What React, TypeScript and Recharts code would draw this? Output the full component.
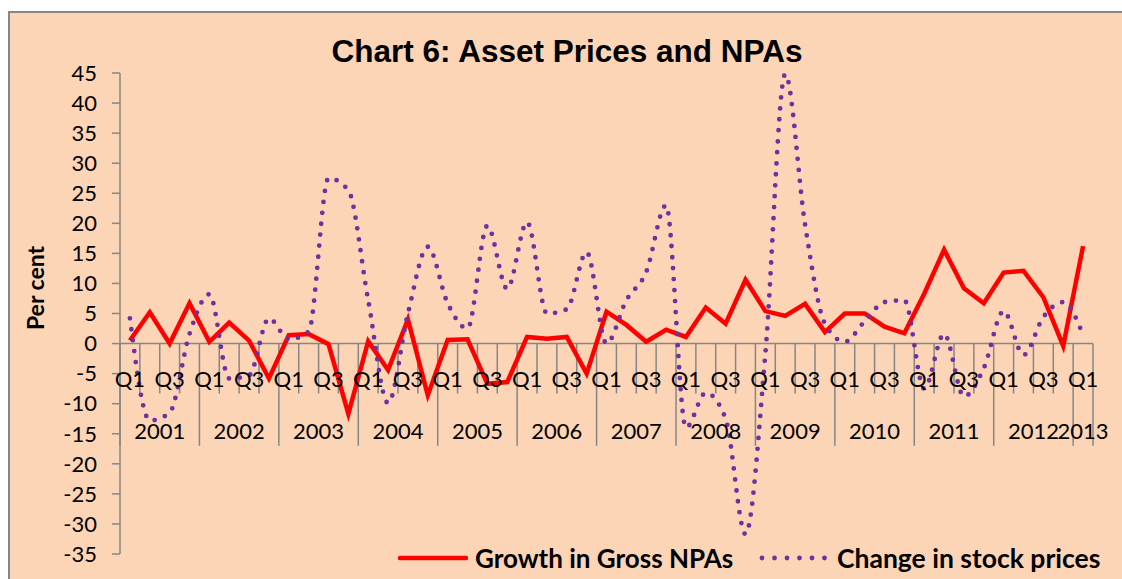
import { LineChart, Line, XAxis, YAxis, ReferenceLine, ReferenceDot } from 'recharts';

const years = ['2001', '2002', '2003', '2004', '2005', '2006', '2007', '2008', '2009', '2010', '2011', '2012', '2013'];
const quarterNames = ['Q1', 'Q2', 'Q3', 'Q4'];

// Growth in Gross NPAs, 2001 Q1 .. 2013 Q1
const npaGrowth = [
  0.5, 5.2, 0, 6.7,
  0.3, 3.5, 0.5, -5.8,
  1.4, 1.6, -0.1, -11.7,
  0.4, -4.4, 4.0, -8.6,
  0.6, 0.7, -6.7, -6.4,
  1.1, 0.8, 1.1, -5.0,
  5.3, 3.1, 0.3, 2.3,
  1.1, 6.0, 3.3, 10.6,
  5.4, 4.6, 6.6, 1.9,
  5.0, 5.0, 2.8, 1.7,
  8.3, 15.6, 9.2, 6.7,
  11.8, 12.1, 7.7, -0.4,
  16.2,
];

// Change in stock prices
const stockChange = [
  4.2, -12.8, -11.5, 1.6,
  8.2, -5.8, -5.3, 4.2,
  0.7, 2.0, 27.5, 25.5,
  7.2, -9.9, 5.0, 16.1,
  6.7, 2.5, 19.6, 9.1,
  20.2, 5.0, 5.7, 15.2,
  0.0, 7.2, 11.9, 23.0,
  -14.0, -8.2, -12.5, -31.7,
  -1.7, 44.8, 19.8, 3.3,
  0.3, 3.7, 6.9, 7.2,
  -7.5, 1.6, -8.8, -4.1,
  5.4, -1.9, 4.4, 6.9,
  1.4,
];

const yTicks = [-35, -30, -25, -20, -15, -10, -5, 0, 5, 10, 15, 20, 25, 30, 35, 40, 45];

const data = npaGrowth.map((npa, i) => ({
  i,
  npa,
  stock: stockChange[i],
  quarter: quarterNames[i % 4],
  year: years[Math.floor(i / 4)],
}));

const yearCenters = years.map((y) => {
  const idx = data.filter((d) => d.year === y).map((d) => d.i);
  return { year: y, x: (idx[0] + idx[idx.length - 1]) / 2 };
});

const boundaries = Array.from({ length: data.length + 1 }, (_, b) => b);

const GRAY = '#868686';
const RED = '#FF0000';
const PURPLE = '#7030A0';
const FONT = 'Lato, "Open Sans", sans-serif';

export default function App() {
  return (
    <div style={{ position: 'fixed', left: 8, top: 8, right: 0, bottom: 0, overflow: 'hidden' }}>
      <style>{'html,body{overflow:hidden}'}</style>
      <div
        style={{
          position: 'absolute',
          left: 0,
          top: 3,
          right: -20,
          bottom: -20,
          background: '#FBD5B5',
          borderTop: `2px solid ${GRAY}`,
          borderLeft: `2px solid ${GRAY}`,
        }}
      />
      <div
        style={{
          position: 'absolute',
          left: 0,
          top: 27,
          width: 1118,
          textAlign: 'center',
          fontFamily: '"Liberation Sans", Arial, sans-serif',
          fontWeight: 'bold',
          fontSize: 31.5,
          lineHeight: '32px',
          color: '#000',
        }}
      >
        Chart 6: Asset Prices and NPAs
      </div>
      <div style={{ position: 'absolute', left: 27, top: 280, width: 0, height: 0 }}>
        <div
          style={{
            position: 'absolute',
            transform: 'translate(-50%, -50%) rotate(-90deg)',
            whiteSpace: 'nowrap',
            fontFamily: FONT,
            fontWeight: 'bold',
            fontSize: 23,
            lineHeight: '26px',
          }}
        >
          Per cent
        </div>
      </div>

      <LineChart
        width={1114}
        height={571}
        data={data}
        margin={{ top: 65, right: 29, bottom: 25, left: 0 }}
        style={{ position: 'absolute', left: 0, top: 0 }}
      >
        <XAxis type="number" dataKey="i" domain={[-0.5, data.length - 0.5]} hide />
        <YAxis
          domain={[-35, 45]}
          ticks={yTicks}
          interval={0}
          width={112}
          tickSize={8}
          tickMargin={15}
          axisLine={{ stroke: GRAY, strokeWidth: 1.5 }}
          tickLine={{ stroke: GRAY, strokeWidth: 1.5 }}
          tick={{ fill: '#000', fontSize: 22, fontFamily: FONT }}
        />
        <ReferenceLine y={0} stroke={GRAY} strokeWidth={1.5} />
        {boundaries.map((b) => {
          const long = b % 4 === 0 || b === data.length;
          return (
            <ReferenceLine
              key={`b${b}`}
              segment={[
                { x: b - 0.5, y: 0 },
                { x: b - 0.5, y: long ? -17 : -8.3 },
              ]}
              stroke={GRAY}
              strokeWidth={1.5}
            />
          );
        })}
        {data
          .filter((d) => d.i % 2 === 0)
          .map((d) => (
            <ReferenceDot
              key={`q${d.i}`}
              x={d.i}
              y={-5.9}
              r={0}
              stroke="none"
              fill="none"
              label={{ value: d.quarter, position: 'center', fill: '#000', fontSize: 22, fontFamily: FONT }}
            />
          ))}
        {yearCenters.map((c) => (
          <ReferenceDot
            key={`y${c.year}`}
            x={c.x}
            y={-14.5}
            r={0}
            stroke="none"
            fill="none"
            label={{ value: c.year, position: 'center', fill: '#000', fontSize: 22, fontFamily: FONT }}
          />
        ))}
        <Line
          type="linear"
          dataKey="npa"
          name="Growth in Gross NPAs"
          stroke={RED}
          strokeWidth={4.5}
          dot={false}
          isAnimationActive={false}
        />
        <Line
          type="monotone"
          dataKey="stock"
          name="Change in stock prices"
          stroke={PURPLE}
          strokeWidth={4.8}
          strokeDasharray="0 11"
          strokeLinecap="round"
          dot={false}
          isAnimationActive={false}
        />
      </LineChart>

      <div
        style={{
          position: 'absolute',
          left: 390,
          top: 535,
          display: 'flex',
          alignItems: 'center',
          height: 30,
          fontFamily: FONT,
          fontWeight: 'bold',
          fontSize: 26,
          color: '#000',
          whiteSpace: 'nowrap',
        }}
      >
        <svg width={70} height={10} style={{ marginRight: 7 }}>
          <line x1={2} y1={5} x2={68} y2={5} stroke={RED} strokeWidth={4.5} strokeLinecap="round" />
        </svg>
        <span>Growth in Gross NPAs</span>
      </div>
      <div
        style={{
          position: 'absolute',
          left: 751,
          top: 535,
          display: 'flex',
          alignItems: 'center',
          height: 30,
          fontFamily: FONT,
          fontWeight: 'bold',
          fontSize: 26.5,
          color: '#000',
          whiteSpace: 'nowrap',
        }}
      >
        <svg width={70} height={10} style={{ marginRight: 8 }}>
          <line
            x1={3}
            y1={5}
            x2={66}
            y2={5}
            stroke={PURPLE}
            strokeWidth={4.8}
            strokeDasharray="0 12.5"
            strokeLinecap="round"
          />
        </svg>
        <span>Change in stock prices</span>
      </div>
    </div>
  );
}
